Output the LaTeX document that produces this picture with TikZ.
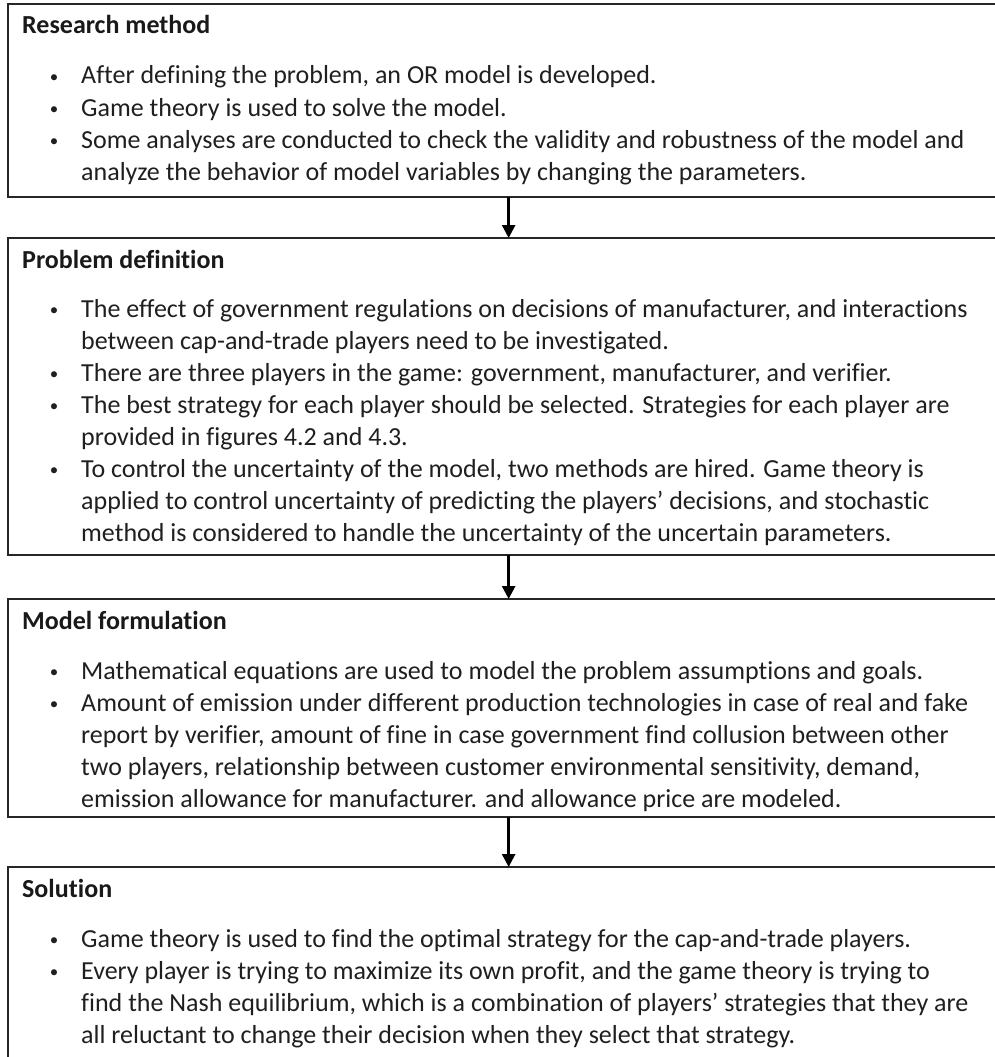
\documentclass[tikz,border=0pt]{standalone}
\usepackage{fontspec}
\setmainfont{Carlito}[Ligatures=NoCommon]
\usetikzlibrary{arrows.meta}
\tikzset{
  box/.style={draw=black!85, line width=1.3pt, rectangle, inner sep=0pt, minimum width=1000pt, anchor=north west},
  txt/.style={anchor=base west, inner sep=0pt, font=\fontsize{26pt}{32pt}\selectfont, text=black!88},
  ttl/.style={anchor=base west, inner sep=0pt, font=\fontsize{26pt}{32pt}\selectfont\bfseries, text=black!90},
  bul/.style={anchor=base, inner sep=0pt, font=\fontsize{17pt}{20pt}\selectfont, text=black!88},
  flow/.style={line width=2.6pt, draw=black, -{Triangle[width=13pt,length=13pt]}}
}
\newcommand\txtln[3]{\node[txt] (#1) at (81pt,-#2pt) {#3};}
\newcommand\bulln[2]{\node[bul] (#1) at (54pt,-#2pt+2pt) {•};}
\begin{document}
\begin{tikzpicture}[x=1pt,y=1pt]
\useasboundingbox (0,0) rectangle (995,-1057);
\clip (0,0) rectangle (995,-1057);
% boxes (placed first to get names)
\node[box, minimum height=192pt] (b1) at (8,-4) {};
\node[box, minimum height=316pt] (b2) at (8,-238) {};
\node[box, minimum height=217pt] (b3) at (8,-599) {};
\node[box, minimum height=260pt] (b4) at (8,-867) {};
% box 1
\begin{scope}
\clip (b1.north west) rectangle (b1.south east);
\node[ttl] (t1) at (22,-34) {Research method};
\bulln{d11}{84}\txtln{l11}{84}{After defining the problem, an OR model is developed.}
\bulln{d12}{116}\txtln{l12}{116}{Game theory is used to solve the model.}
\bulln{d13}{148}\txtln{l13}{148}{Some analyses are conducted to check the validity and robustness of the model and}
\txtln{l14}{180}{analyze the behavior of model variables by changing the parameters.}
\end{scope}
% box 2
\begin{scope}
\clip (b2.north west) rectangle (b2.south east);
\node[ttl] (t2) at (22,-268) {Problem definition};
\bulln{d21}{317}\txtln{l21}{317}{The effect of government regulations on decisions of manufacturer, and interactions}
\txtln{l22}{349}{between cap-and-trade players need to be investigated.}
\bulln{d23}{381}\txtln{l23}{381}{There are three players in the game: government, manufacturer, and verifier.}
\bulln{d24}{413}\txtln{l24}{413}{The best strategy for each player should be selected. Strategies for each player are}
\txtln{l25}{445}{provided in figures 4.2 and 4.3.}
\bulln{d26}{477}\txtln{l26}{477}{To control the uncertainty of the model, two methods are hired. Game theory is}
\txtln{l27}{509}{applied to control uncertainty of predicting the players’ decisions, and stochastic}
\txtln{l28}{541}{method is considered to handle the uncertainty of the uncertain parameters.}
\end{scope}
% box 3
\begin{scope}
\clip (b3.north west) rectangle (b3.south east);
\node[ttl] (t3) at (22,-629) {Model formulation};
\bulln{d31}{679}\txtln{l31}{679}{Mathematical equations are used to model the problem assumptions and goals.}
\bulln{d32}{711}\txtln{l32}{711}{Amount of emission under different production technologies in case of real and fake}
\txtln{l33}{743}{report by verifier, amount of fine in case government find collusion between other}
\txtln{l34}{775}{two players, relationship between customer environmental sensitivity, demand,}
\txtln{l35}{807}{emission allowance for manufacturer. and allowance price are modeled.}
\end{scope}
% box 4
\begin{scope}
\clip (b4.north west) rectangle (b4.south east);
\node[ttl] (t4) at (22,-897) {Solution};
\bulln{d41}{947}\txtln{l41}{947}{Game theory is used to find the optimal strategy for the cap-and-trade players.}
\bulln{d42}{979}\txtln{l42}{979}{Every player is trying to maximize its own profit, and the game theory is trying to}
\txtln{l43}{1011}{find the Nash equilibrium, which is a combination of players’ strategies that they are}
\txtln{l44}{1043}{all reluctant to change their decision when they select that strategy.}
\end{scope}
% borders on top
\draw[black!85, line width=1.3pt] (b1.north west) rectangle (b1.south east);
\draw[black!85, line width=1.3pt] (b2.north west) rectangle (b2.south east);
\draw[black!85, line width=1.3pt] (b3.north west) rectangle (b3.south east);
\draw[black!85, line width=1.3pt] (b4.north west) rectangle (b4.south east);
% arrows
\draw[flow] (b1.south) -- (b2.north);
\draw[flow] (b2.south) -- (b3.north);
\draw[flow] (b3.south) -- (b4.north);
\end{tikzpicture}
\end{document}
